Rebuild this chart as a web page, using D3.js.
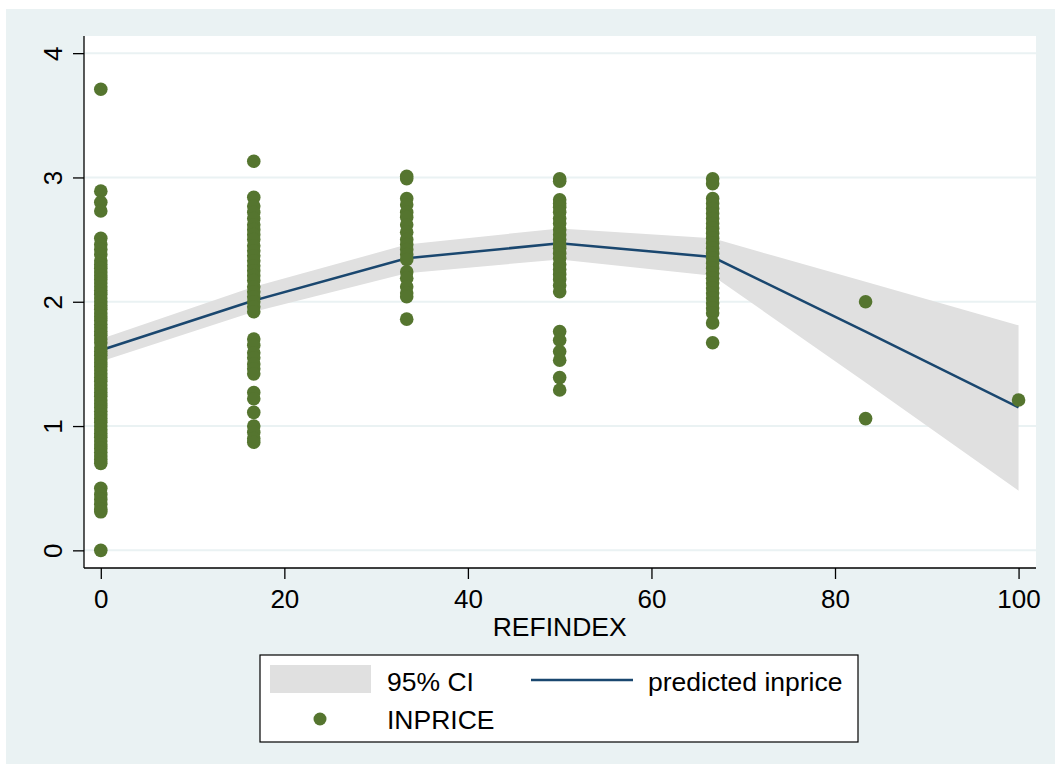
<!DOCTYPE html>
<html>
<head>
<meta charset="utf-8">
<script src="https://cdn.jsdelivr.net/npm/d3@7"></script>
<style>
  html, body { margin: 0; padding: 0; background: #ffffff; }
  svg { display: block; }
  text { font-family: "Liberation Sans", Arial, sans-serif; fill: #000; }
</style>
</head>
<body>
<svg id="chart" width="1055" height="767"></svg>
<script>
// ---- data ----
const fitX = [0, 16.667, 33.333, 50, 66.667, 83.333, 100];
const predicted = [1.61, 2.01, 2.35, 2.47, 2.36, 1.76, 1.15];
const ciLower = [1.52, 1.92, 2.23, 2.34, 2.21, 1.35, 0.48];
const ciUpper = [1.70, 2.12, 2.46, 2.59, 2.51, 2.16, 1.81];

const refIndexLevels = [0, 16.667, 33.333, 50, 66.667, 83.333, 100];
const price0 = [3.71, 2.89, 2.80, 2.73, 2.51, 2.46, 2.42, 2.38, 2.33, 2.30, 2.27, 2.24, 2.21, 2.18, 2.15, 2.12,
  2.09, 2.06, 2.03, 2.00, 1.97, 1.94, 1.91, 1.88, 1.85, 1.82, 1.79, 1.76, 1.73, 1.70, 1.67, 1.63, 1.60,
  1.57, 1.54, 1.51, 1.48, 1.45, 1.42, 1.39, 1.36, 1.33, 1.30, 1.27, 1.24, 1.21, 1.18, 1.15, 1.12, 1.09,
  1.06, 1.03, 1.00, 0.97, 0.94, 0.91, 0.88, 0.85, 0.82, 0.79, 0.76, 0.73, 0.70, 0.50, 0.45, 0.41, 0.37,
  0.33, 0.31, 0.00];
const price17 = [3.13, 2.84, 2.77, 2.72, 2.67, 2.62, 2.58, 2.54, 2.50, 2.45, 2.41, 2.37, 2.33, 2.29, 2.25,
  2.21, 2.17, 2.12, 2.08, 2.04, 2.00, 1.96, 1.92, 1.70, 1.65, 1.59, 1.55, 1.50, 1.46, 1.42, 1.27, 1.22,
  1.11, 1.00, 0.95, 0.90, 0.87];
const price33 = [3.01, 2.99, 2.83, 2.78, 2.72, 2.68, 2.62, 2.56, 2.50, 2.46, 2.42, 2.38, 2.34, 2.24, 2.19,
  2.12, 2.07, 2.04, 1.86];
const price50 = [2.99, 2.97, 2.82, 2.79, 2.76, 2.72, 2.67, 2.63, 2.58, 2.54, 2.50, 2.46, 2.43, 2.39, 2.35,
  2.30, 2.26, 2.22, 2.18, 2.13, 2.08, 1.76, 1.69, 1.60, 1.53, 1.39, 1.29];
const price67 = [2.99, 2.95, 2.83, 2.79, 2.75, 2.71, 2.67, 2.63, 2.59, 2.55, 2.51, 2.47, 2.43, 2.39, 2.35,
  2.31, 2.27, 2.23, 2.19, 2.15, 2.11, 2.07, 2.03, 1.99, 1.95, 1.91, 1.83, 1.67];
const price83 = [2.00, 1.06];
const price100 = [1.21];

const xTicks = [0, 20, 40, 60, 80, 100];
const yTicks = [0, 1, 2, 3, 4];
const legendLabels = ["95% CI", "predicted inprice", "INPRICE"];
const xTitle = "REFINDEX";

// ---- layout ----
const svg = d3.select("#chart");
const plot = { left: 84, right: 1036, top: 36, bottom: 568 };
const x = d3.scaleLinear().domain([-1.83, 101.9]).range([plot.left, plot.right]);
const y = d3.scaleLinear().domain([-0.142, 4.138]).range([plot.bottom, plot.top]);

const bg = "#eaf2f3";
const green = "#55752f";
const navy = "#1a476f";
const ciFill = "#e0e0e0";
const fontSize = "26px";

svg.append("rect").attr("x", 6).attr("y", 9).attr("width", 1049).attr("height", 755).attr("fill", bg);
svg.append("rect").attr("x", plot.left).attr("y", plot.top)
  .attr("width", plot.right - plot.left).attr("height", plot.bottom - plot.top).attr("fill", "#fff");

// gridlines
svg.append("g").selectAll("line").data(yTicks).join("line")
  .attr("x1", plot.left).attr("x2", plot.right)
  .attr("y1", d => y(d)).attr("y2", d => y(d))
  .attr("stroke", bg).attr("stroke-width", 2);

// CI band
const fit = fitX.map((v, i) => ({ x: v, p: predicted[i], lo: ciLower[i], hi: ciUpper[i] }));
svg.append("path").datum(fit)
  .attr("d", d3.area().x(d => x(d.x)).y0(d => y(d.lo)).y1(d => y(d.hi)))
  .attr("fill", ciFill);

// predicted line
svg.append("path").datum(fit)
  .attr("d", d3.line().x(d => x(d.x)).y(d => y(d.p)))
  .attr("fill", "none").attr("stroke", navy).attr("stroke-width", 2.5);

// scatter
const cols = [price0, price17, price33, price50, price67, price83, price100];
const pts = [];
cols.forEach((arr, i) => arr.forEach(v => pts.push({ x: refIndexLevels[i], v })));
svg.append("g").selectAll("circle").data(pts).join("circle")
  .attr("cx", d => x(d.x)).attr("cy", d => y(d.v)).attr("r", 6.8)
  .attr("fill", green);

// axes
const yAxis = d3.axisLeft(y).tickValues(yTicks).tickSize(11).tickFormat(d3.format("d"));
const gy = svg.append("g").attr("transform", `translate(${plot.left},0)`).call(yAxis);
gy.select(".domain").attr("stroke", "#000").attr("stroke-width", 1.3)
  .attr("d", `M0,${plot.top}V${plot.bottom}`);
gy.selectAll(".tick line").attr("stroke", "#000").attr("stroke-width", 1.3);
gy.selectAll(".tick text")
  .attr("x", null).attr("dy", null)
  .attr("transform", "translate(-22,0) rotate(-90)")
  .attr("text-anchor", "middle")
  .style("font-size", fontSize).style("font-family", "Liberation Sans, Arial, sans-serif");

const xAxis = d3.axisBottom(x).tickValues(xTicks).tickSize(11).tickFormat(d3.format("d"));
const gx = svg.append("g").attr("transform", `translate(0,${plot.bottom})`).call(xAxis);
gx.select(".domain").attr("stroke", "#000").attr("stroke-width", 1.3)
  .attr("d", `M${plot.left},0H${plot.right}`);
gx.selectAll(".tick line").attr("stroke", "#000").attr("stroke-width", 1.3);
gx.selectAll(".tick text").attr("y", 40).attr("dy", null)
  .style("font-size", fontSize).style("font-family", "Liberation Sans, Arial, sans-serif");

svg.append("text").attr("x", x(50)).attr("y", 636).attr("text-anchor", "middle")
  .style("font-size", "26.5px").text(xTitle);

// legend
const lg = svg.append("g");
lg.append("rect").attr("x", 260).attr("y", 655).attr("width", 598).attr("height", 87)
  .attr("fill", "#fff").attr("stroke", "#000").attr("stroke-width", 1.2);
lg.append("rect").attr("x", 270).attr("y", 665).attr("width", 101).attr("height", 28).attr("fill", ciFill);
lg.append("text").attr("x", 387).attr("y", 691).style("font-size", "26.5px").text(legendLabels[0]);
lg.append("line").attr("x1", 531).attr("x2", 633).attr("y1", 680).attr("y2", 680)
  .attr("stroke", navy).attr("stroke-width", 2.5);
lg.append("text").attr("x", 648).attr("y", 691).style("font-size", "26.5px").text(legendLabels[1]);
lg.append("circle").attr("cx", 320).attr("cy", 719).attr("r", 6.5).attr("fill", green);
lg.append("text").attr("x", 387).attr("y", 729).style("font-size", "26.5px").text(legendLabels[2]);
</script>
</body>
</html>
